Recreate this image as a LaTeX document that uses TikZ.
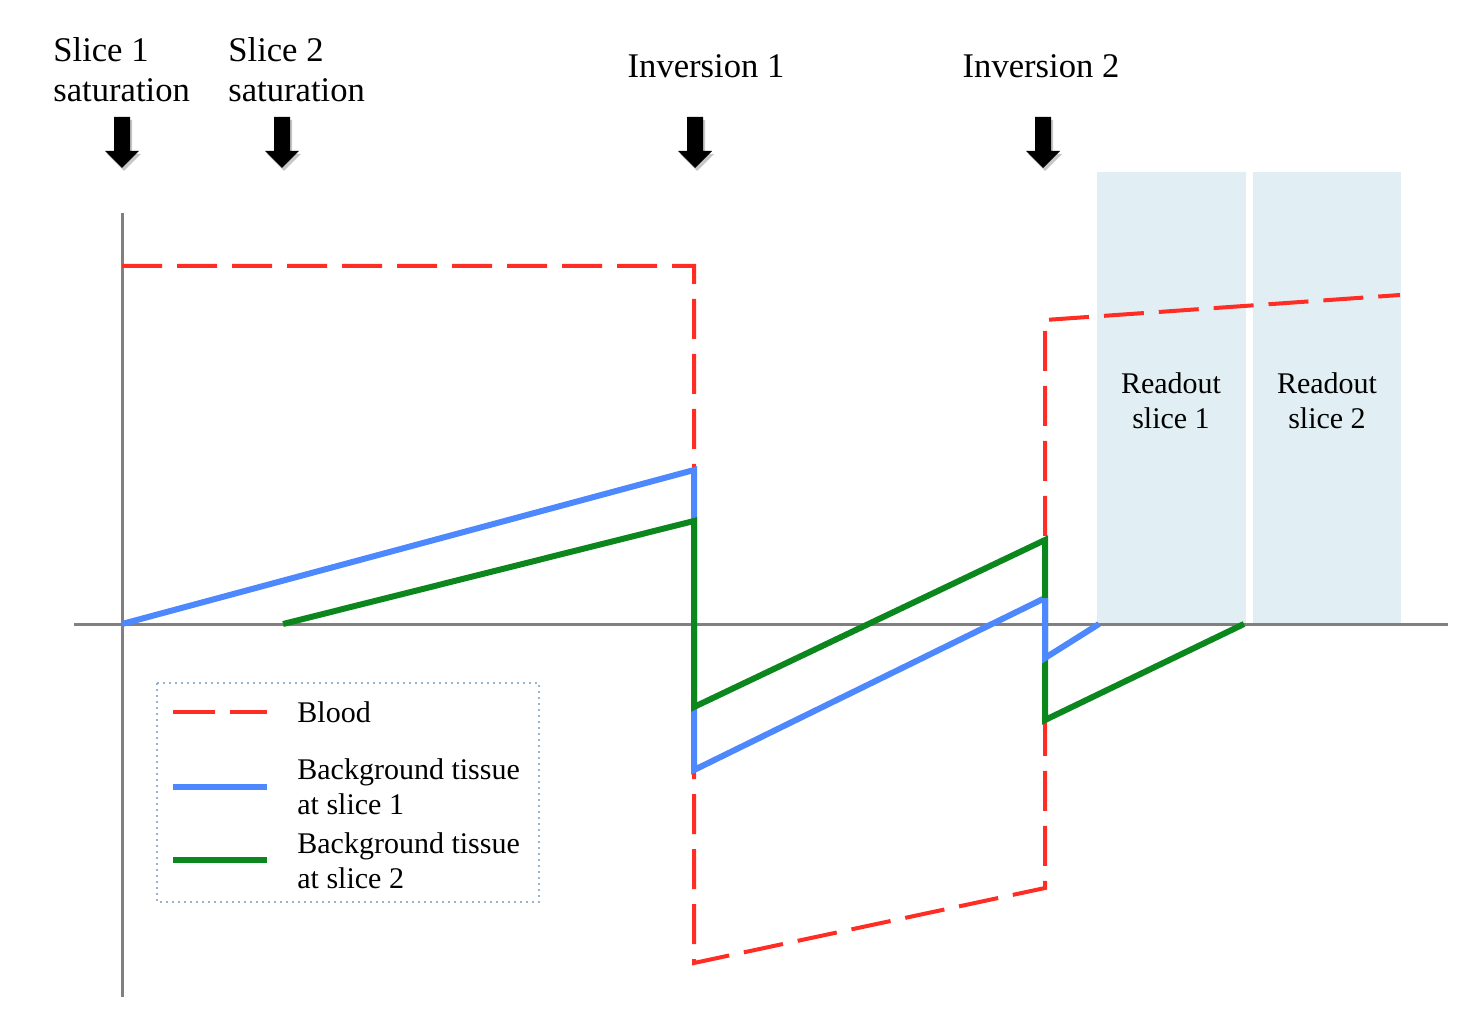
\documentclass[tikz,border=0pt]{standalone}
\usepackage{fontspec}
\setmainfont{Liberation Serif}
\definecolor{bloodred}{RGB}{255,45,35}
\definecolor{tissueblue}{RGB}{77,136,255}
\definecolor{tissuegreen}{RGB}{12,135,30}
\definecolor{readoutbg}{RGB}{225,239,244}
\definecolor{axisgray}{RGB}{128,128,128}
\definecolor{legendborder}{RGB}{150,178,212}
\tikzset{
  blood/.style={draw=bloodred, line width=2pt, dash pattern=on 20pt off 7.5pt},
  tissueA/.style={draw=tissueblue, line width=3pt},
  tissueB/.style={draw=tissuegreen, line width=3pt},
  axisline/.style={draw=axisgray, line width=1.5pt},
  toplabel/.style={font=\fontsize{17.3}{20}\selectfont, inner sep=0pt},
  smalllabel/.style={font=\fontsize{15}{17.4}\selectfont, inner sep=0pt},
  readbox/.style={fill=readoutbg, draw=none},
  legendbox/.style={draw=legendborder, line width=1pt, dotted},
}
\begin{document}
\begin{tikzpicture}[x=0.5pt,y=-0.5pt]
\useasboundingbox (0,0) rectangle (1474,1016);
% readout windows
\path[readbox] (1097,172) rectangle (1246,624);
\path[readbox] (1253,172) rectangle (1401,624);
% axes
\coordinate (yTop) at (122,213);
\coordinate (yBot) at (122,997);
\coordinate (xL) at (74,624);
\coordinate (xR) at (1448,624);
\draw[axisline] (yTop) -- (yBot);
\draw[axisline] (xL) -- (xR);
% blood
\coordinate (b0) at (122,266);
\coordinate (b1) at (694,266);
\coordinate (b2) at (694,963);
\coordinate (b3) at (1045,888);
\coordinate (b4) at (1045,320);
\coordinate (b5) at (1400,295);
\draw[blood] (b0) -- (b1) -- (b2) -- (b3) -- (b4) -- (b5);
% tissue slice 1 (blue)
\coordinate (s0) at (122,624);
\coordinate (s1) at (694,470);
\coordinate (s2) at (694,770);
\coordinate (s3) at (1045,598);
\coordinate (s4) at (1045,658);
\coordinate (s5) at (1099,624);
% tissue slice 2 (green)
\coordinate (t0) at (283,624);
\coordinate (t1) at (694,521);
\coordinate (t2) at (694,707);
\coordinate (t3) at (1045,540);
\coordinate (t4) at (1045,720);
\coordinate (t5) at (1244,624);
\draw[tissueA] (s0) -- (s1) -- (s2) -- (s3);
\draw[tissueB] (t0) -- (t1) -- (t2) -- (t3) -- (t4) -- (t5);
\draw[tissueA] (s3) -- (s4) -- (s5);
% pulse arrows
\foreach \cx in {122,282,695,1043} {
  \fill[black, opacity=0.22] ({\cx-8+2},120) -- ({\cx+8+2},120) -- ({\cx+8+2},154) -- ({\cx+17+2},154) -- ({\cx+2},171) -- ({\cx-17+2},154) -- ({\cx-8+2},154) -- cycle;
  \fill[black] ({\cx-8},117) -- ({\cx+8},117) -- ({\cx+8},151) -- ({\cx+17},151) -- (\cx,168) -- ({\cx-17},151) -- ({\cx-8},151) -- cycle;
}
% top labels
\node[toplabel, anchor=north west, align=left] (sat1) at (53,37) {Slice 1\\saturation};
\node[toplabel, anchor=north west, align=left] (sat2) at (228,37) {Slice 2\\saturation};
\node[toplabel, anchor=base] (inv1) at (706,78) {Inversion 1};
\node[toplabel, anchor=base] (inv2) at (1041,78) {Inversion 2};
% readout labels
\node[smalllabel, anchor=north, align=center] (ro1) at (1171,372) {Readout\\slice 1};
\node[smalllabel, anchor=north, align=center] (ro2) at (1327,372) {Readout\\slice 2};
% legend
\draw[legendbox] (157,683) rectangle (539,902);
\coordinate (l1a) at (173,712); \coordinate (l1b) at (267,712);
\coordinate (l2a) at (173,787); \coordinate (l2b) at (267,787);
\coordinate (l3a) at (173,860); \coordinate (l3b) at (267,860);
\draw[blood, dash pattern=on 21pt off 7.5pt] (l1a) -- (l1b);
\draw[tissueA] (l2a) -- (l2b);
\draw[tissueB] (l3a) -- (l3b);
\node[smalllabel, anchor=west] (lg1) at (297,712) {Blood};
\node[smalllabel, anchor=west, align=left] (lg2) at (297,787) {Background tissue\\at slice 1};
\node[smalllabel, anchor=west, align=left] (lg3) at (297,861) {Background tissue\\at slice 2};
\end{tikzpicture}
\end{document}
